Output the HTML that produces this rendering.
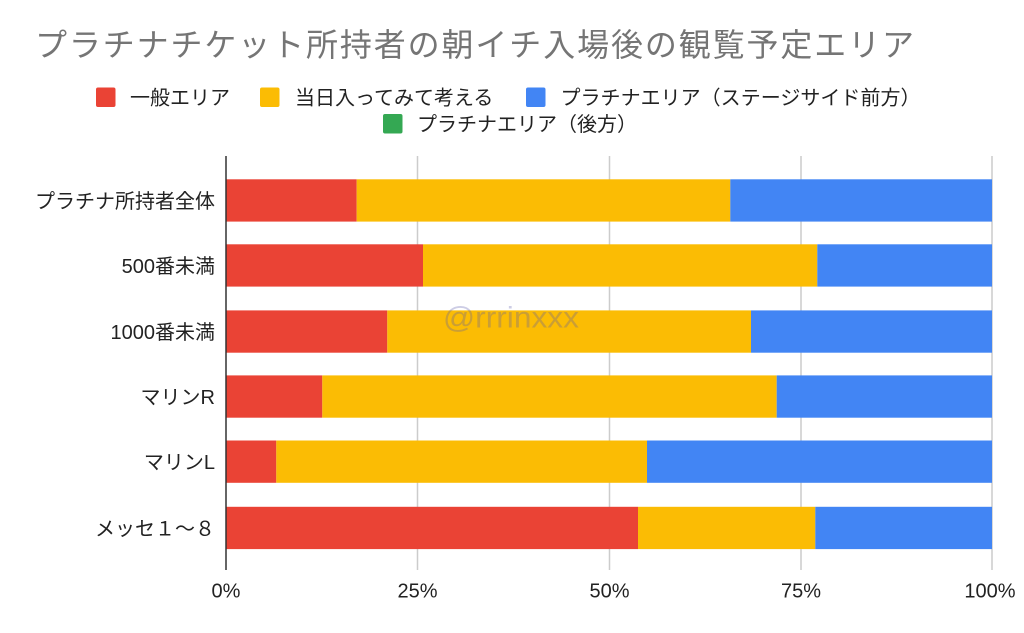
<!DOCTYPE html>
<html>
<head>
<meta charset="utf-8">
<style>
  html, body { margin: 0; padding: 0; background: #ffffff; }
  body { width: 1024px; height: 633px; overflow: hidden; }
  svg { display: block; }
  text { font-family: "Liberation Sans", "Noto Sans CJK JP", sans-serif; }
</style>
</head>
<body>
<svg width="1024" height="633" viewBox="0 0 1024 633" xmlns="http://www.w3.org/2000/svg">
  <rect x="0" y="0" width="1024" height="633" fill="#ffffff"/>

  <!-- Title -->
  <text x="35" y="56" font-size="32" fill="#757575" textLength="879" lengthAdjust="spacing">プラチナチケット所持者の朝イチ入場後の観覧予定エリア</text>

  <!-- Legend -->
  <rect x="96" y="87.5" width="19.5" height="19.5" rx="2" fill="#ea4335"/>
  <text x="130" y="104.5" font-size="20" fill="#222222">一般エリア</text>
  <rect x="260" y="87.5" width="19.5" height="19.5" rx="2" fill="#fbbc04"/>
  <text x="295" y="104.5" font-size="20" fill="#222222">当日入ってみて考える</text>
  <rect x="526" y="87.5" width="19.5" height="19.5" rx="2" fill="#4285f4"/>
  <text x="560.5" y="104.5" font-size="20" fill="#222222" textLength="360" lengthAdjust="spacing">プラチナエリア（ステージサイド前方）</text>
  <rect x="383" y="114" width="19.5" height="19.5" rx="2" fill="#34a853"/>
  <text x="417" y="131" font-size="20" fill="#222222" textLength="220" lengthAdjust="spacing">プラチナエリア（後方）</text>

  <!-- Gridlines -->
  <g stroke="#cccccc" stroke-width="1.5">
    <line x1="417.5" y1="156" x2="417.5" y2="570"/>
    <line x1="609.5" y1="156" x2="609.5" y2="570"/>
    <line x1="801" y1="156" x2="801" y2="570"/>
    <line x1="992" y1="156" x2="992" y2="570"/>
  </g>

  <!-- Bars -->
  <!-- Row 1 -->
  <rect x="226" y="179.3" width="130.7" height="42.3" fill="#ea4335"/>
  <rect x="356.7" y="179.3" width="373.6" height="42.3" fill="#fbbc04"/>
  <rect x="730.3" y="179.3" width="261.7" height="42.3" fill="#4285f4"/>
  <!-- Row 2 -->
  <rect x="226" y="244.3" width="197" height="42.3" fill="#ea4335"/>
  <rect x="423" y="244.3" width="394.3" height="42.3" fill="#fbbc04"/>
  <rect x="817.3" y="244.3" width="174.7" height="42.3" fill="#4285f4"/>
  <!-- Row 3 -->
  <rect x="226" y="310.4" width="161.3" height="42.3" fill="#ea4335"/>
  <rect x="387.3" y="310.4" width="363.7" height="42.3" fill="#fbbc04"/>
  <rect x="751" y="310.4" width="241" height="42.3" fill="#4285f4"/>
  <!-- Row 4 -->
  <rect x="226" y="375.4" width="96.3" height="42.3" fill="#ea4335"/>
  <rect x="322.3" y="375.4" width="454.4" height="42.3" fill="#fbbc04"/>
  <rect x="776.7" y="375.4" width="215.3" height="42.3" fill="#4285f4"/>
  <!-- Row 5 -->
  <rect x="226" y="440.5" width="50.3" height="42.3" fill="#ea4335"/>
  <rect x="276.3" y="440.5" width="370.7" height="42.3" fill="#fbbc04"/>
  <rect x="647" y="440.5" width="345" height="42.3" fill="#4285f4"/>
  <!-- Row 6 -->
  <rect x="226" y="506.8" width="412" height="42.3" fill="#ea4335"/>
  <rect x="638" y="506.8" width="177.3" height="42.3" fill="#fbbc04"/>
  <rect x="815.3" y="506.8" width="176.7" height="42.3" fill="#4285f4"/>

  <!-- Axis line -->
  <line x1="226" y1="156" x2="226" y2="570" stroke="#333333" stroke-width="1.5"/>

  <!-- Category labels -->
  <g font-size="20" fill="#222222" text-anchor="end">
    <text x="215" y="208">プラチナ所持者全体</text>
    <text x="215" y="273">500番未満</text>
    <text x="215" y="339">1000番未満</text>
    <text x="215" y="404">マリンR</text>
    <text x="215" y="469">マリンL</text>
    <text x="215" y="535.5">メッセ１〜８</text>
  </g>

  <!-- X tick labels -->
  <g font-size="20" fill="#222222" text-anchor="middle">
    <text x="226" y="597.5">0%</text>
    <text x="417.5" y="597.5">25%</text>
    <text x="609.5" y="597.5">50%</text>
    <text x="801" y="597.5">75%</text>
    <text x="990" y="597.5">100%</text>
  </g>

  <!-- Watermark -->
  <text x="443" y="327.5" font-size="30" fill="rgb(90,90,170)" fill-opacity="0.3" textLength="136" lengthAdjust="spacingAndGlyphs">@rrrinxxx</text>
</svg>
</body>
</html>
